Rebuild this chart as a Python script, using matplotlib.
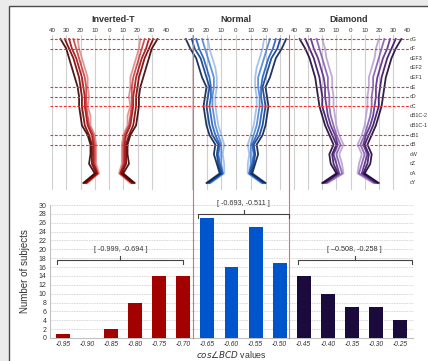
import matplotlib
matplotlib.use("Agg")
import matplotlib.pyplot as plt
from matplotlib.patches import Rectangle

plt.rcParams["font.family"] = ["Liberation Sans", "DejaVu Sans"]

W, H = 428, 361

# --- top: spine profiles (half widths, outer -> inner) ---
levels = ["cG", "cF", "cEF3", "cEF2", "cEF1", "cE", "cD", "cC",
          "cB1C-2", "cB1C-1", "cB1", "cB", "cW", "cZ", "cA", "cY"]
marked_levels = ["cG", "cF", "cE", "cD", "cC", "cB1", "cB"]
panel_names = ["Inverted-T", "Normal", "Diamond"]

invt_profiles = [
    [34, 30, 28, 26, 24, 22, 21, 21, 20, 19, 15, 13, 13, 14, 10, 18],
    [31, 28, 25, 23, 21, 20, 19, 19, 18, 17, 14, 12, 12, 12, 9, 17],
    [28, 26, 23, 21, 19, 18, 17, 17, 16, 15, 12, 11, 11, 11, 8, 16],
    [25, 23, 21, 19, 17, 16, 16, 16, 15, 14, 11, 10, 10, 10, 8, 16],
    [22, 21, 19, 17, 15, 15, 14, 15, 13, 13, 10, 9, 9, 9, 7, 15],
]
normal_profiles = [
    [34, 31, 27, 25, 23, 20, 21, 22, 21, 20, 18, 14, 15, 13, 11, 20],
    [30, 28, 24, 22, 20, 18, 19, 20, 19, 18, 16, 12, 13, 12, 10, 19],
    [27, 25, 22, 20, 18, 17, 17, 18, 17, 16, 14, 11, 12, 11, 9, 18],
    [23, 21, 19, 17, 15, 15, 16, 16, 15, 14, 12, 10, 10, 10, 9, 18],
    [19, 18, 16, 14, 13, 13, 14, 14, 13, 12, 10, 8, 9, 8, 8, 17],
]
diamond_profiles = [
    [36, 32, 29, 27, 25, 24, 23, 22, 20, 18, 15, 12, 15, 14, 10, 20],
    [32, 29, 26, 24, 22, 21, 20, 20, 18, 16, 13, 10, 13, 12, 9, 19],
    [28, 26, 23, 21, 19, 18, 18, 17, 16, 14, 11, 9, 12, 10, 8, 18],
    [24, 22, 20, 18, 16, 16, 15, 15, 14, 12, 10, 7, 10, 8, 6, 17],
    [20, 18, 17, 15, 13, 13, 12, 12, 11, 10, 8, 5, 8, 6, 5, 16],
]
panel_colors = [
    ["#3a0000", "#7a0000", "#a80d0d", "#c84040", "#e08a8a"],
    ["#08204f", "#0b3d8c", "#1f5fbf", "#4f86d6", "#9dbde8"],
    ["#1a0633", "#3a1266", "#5a2a8a", "#8460ad", "#b8a0d4"],
]
top_ticks = [-40, -30, -20, -10, 0, 10, 20, 30, 40]

# --- bottom: histogram of cos(BCD) ---
bins = ["-0.95", "-0.90", "-0.85", "-0.80", "-0.75", "-0.70", "-0.65", "-0.60",
        "-0.55", "-0.50", "-0.45", "-0.40", "-0.35", "-0.30", "-0.25"]
counts = [1, 0, 2, 8, 14, 14, 27, 16, 25, 17, 14, 10, 7, 7, 4]
group_of_bin = [0, 0, 0, 0, 0, 0, 1, 1, 1, 1, 2, 2, 2, 2, 2]
group_colors = ["#a30000", "#0055cc", "#1b0a3c"]
group_labels = ["[ -0.999, -0.694 ]", "[ -0.693, -0.511 ]", "[ \u20130.508, -0.258 ]"]
brace_span = [(-0.25, 5.0), (5.6, 9.4), (9.75, 14.5)]
brace_level = [17.6, 28.0, 17.6]


def rect(x0, y0, x1, y1):
    return [x0 / W, 1 - y1 / H, (x1 - x0) / W, (y1 - y0) / H]


fig = plt.figure(figsize=(W / 100, H / 100), dpi=100)
fig.patch.set_facecolor("#ebebeb")
fig.patches.append(Rectangle((9 / W, -0.05), 1.1, 1.05 - 6 / H,
                             transform=fig.transFigure, facecolor="white",
                             edgecolor="#4a4a4a", lw=1.0, zorder=-1))

y_idx = list(range(len(levels)))
ylim_top = (15.73, -0.42)

panel_px = [(52, 166), (177, 295), (294, 407)]
title_x = [113, 236, 349]
all_profiles = [invt_profiles, normal_profiles, diamond_profiles]
for i, (x0, x1) in enumerate(panel_px):
    ax = fig.add_axes(rect(x0, 35, x1, 190))
    ax.patch.set_alpha(0)
    ax.set_xlim(-40, 40)
    ax.set_ylim(*ylim_top)
    ticks = top_ticks if i != 1 else top_ticks[1:-1]
    ax.set_xticks(ticks)
    ax.set_xticklabels([str(abs(t)) for t in ticks], fontsize=4.5, color="#333333")
    ax.xaxis.tick_top()
    ax.tick_params(axis="x", length=0, pad=1.5)
    ax.set_yticks([])
    for t in ticks:
        ax.axvline(t, color="#cfcfcf", lw=0.8, zorder=0)
    for s in ax.spines.values():
        s.set_visible(False)
    profs = all_profiles[i]
    cols = panel_colors[i]
    for k in range(len(profs) - 1, -1, -1):
        ax.plot(profs[k], y_idx, color=cols[k], lw=1.3, alpha=0.9)
        ax.plot([-v for v in profs[k]], y_idx, color=cols[k], lw=1.3, alpha=0.9)
    fig.text(title_x[i] / W, 1 - 19 / H, panel_names[i], ha="center", va="center",
             fontsize=6.5, fontweight="bold", color="#333333")

# overlay for the dashed reference levels (on top of the profiles)
ax_lines = fig.add_axes(rect(50, 35, 410, 190))
ax_lines.set_ylim(*ylim_top)
ax_lines.set_xlim(0, 1)
ax_lines.axis("off")
ax_lines.patch.set_alpha(0)
for name in marked_levels:
    ax_lines.axhline(levels.index(name), color="#ff2a2a", lw=0.8,
                     ls=(0, (2.5, 1.5)), zorder=5)

# level names on the right
for j, name in enumerate(levels):
    y_px = 35 + (j - ylim_top[1]) / (ylim_top[0] - ylim_top[1]) * 155
    fig.text(410 / W, 1 - y_px / H, name, ha="left", va="center",
             fontsize=3.9, color="#333333")

# --- histogram ---
axb = fig.add_axes(rect(50, 205, 413, 338))
xs = list(range(len(bins)))
axb.bar(xs, counts, width=0.58, color=[group_colors[g] for g in group_of_bin], zorder=3)
axb.set_xlim(-0.55, 14.55)
axb.set_ylim(0, 30)
axb.set_yticks(range(0, 31, 2))
axb.set_yticklabels([str(v) for v in range(0, 31, 2)], fontsize=5, color="#333333")
axb.set_xticks(xs)
axb.set_xticklabels(bins, fontsize=4.8, style="italic", color="#333333")
axb.tick_params(length=0, pad=2.5)
axb.grid(axis="y", color="#c8c8c8", lw=0.6, ls=(0, (1, 1)), zorder=0)
for s in ["top", "right"]:
    axb.spines[s].set_visible(False)
axb.spines["left"].set_color("#c0c0c0")
axb.spines["bottom"].set_color("#c0c0c0")
axb.set_ylabel("Number of subjects", fontsize=7, color="#333333", labelpad=6)
axb.set_xlabel(r"$cos\angle BCD$ values", fontsize=6.3, color="#333333", labelpad=0.5)

# separators between the three groups, running up through the profiles
reach = (338 - 35) / (338 - 205)
for b in range(1, len(group_of_bin)):
    if group_of_bin[b] != group_of_bin[b - 1]:
        axb.axvline(b - 0.62, ymin=0, ymax=reach, clip_on=False,
                    color="#e86a6a", lw=0.8, zorder=4)

# braces with the interval labels
for (a, b), lvl, lab in zip(brace_span, brace_level, group_labels):
    mid = (a + b) / 2
    axb.plot([a, a, b, b], [lvl - 0.9, lvl, lvl, lvl - 0.9], color="#444444",
             lw=0.8, clip_on=False, zorder=5)
    axb.plot([mid, mid], [lvl, lvl + 0.9], color="#444444", lw=0.8,
             clip_on=False, zorder=5)
    axb.text(mid, lvl + 2.4, lab, ha="center", va="center", fontsize=5.2,
             color="#333333", clip_on=False)

fig.savefig("out.png", dpi=100, facecolor=fig.get_facecolor())
